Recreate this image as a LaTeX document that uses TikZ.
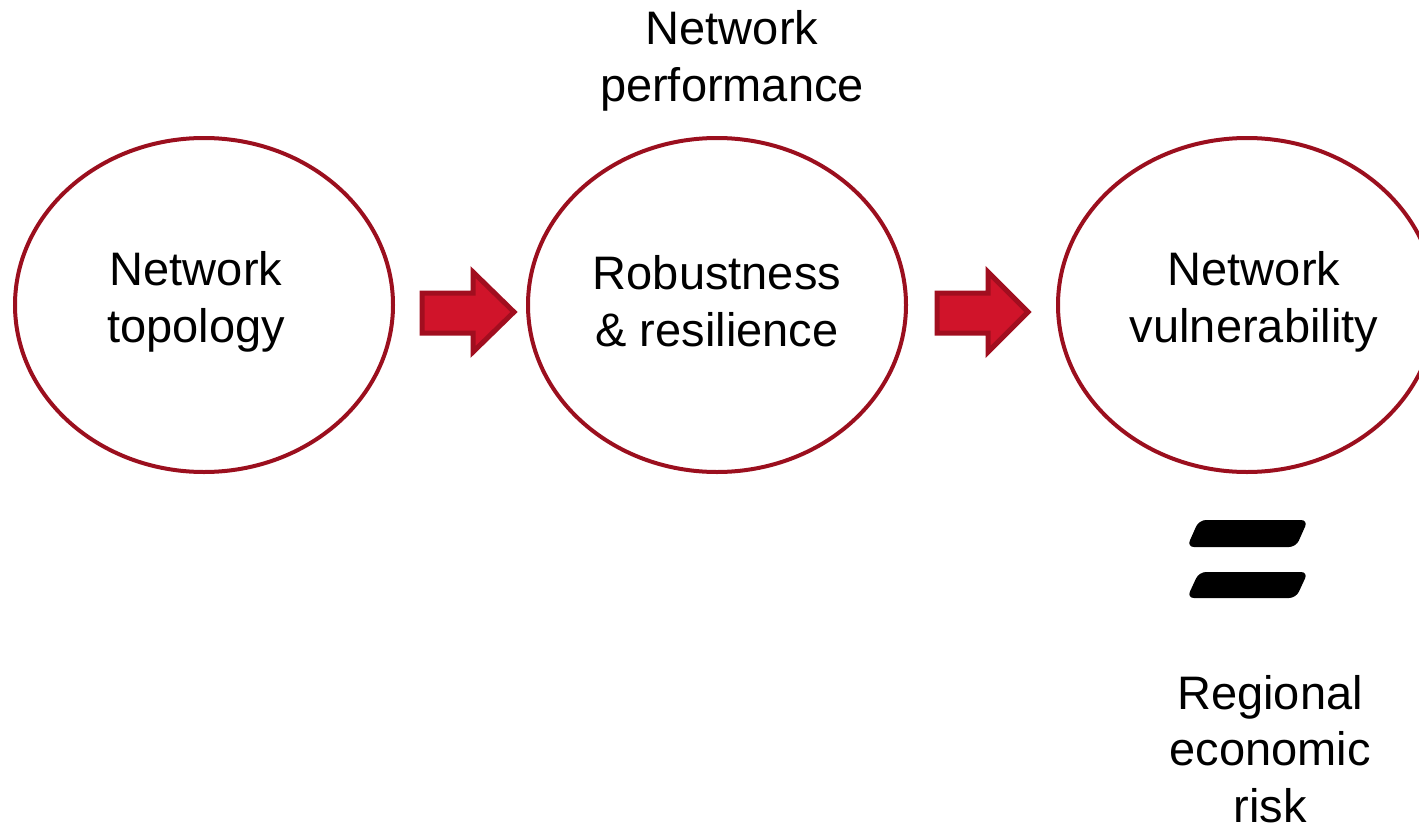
\documentclass[tikz,border=0pt]{standalone}
\usepackage{fontspec}
\usetikzlibrary{shapes.geometric}
\setmainfont{Liberation Sans}
\definecolor{ringred}{HTML}{9B0F1E}
\definecolor{arrowfill}{HTML}{D0142A}
\definecolor{arrowedge}{HTML}{A10E1F}
\begin{document}
\begin{tikzpicture}[x=1pt,y=-1pt,
  stage/.style={draw=ringred,line width=4pt,ellipse,minimum width=378pt,minimum height=334pt,inner sep=0pt},
  label/.style={align=center,font=\fontsize{47}{56.5}\selectfont,inner sep=0pt},
  blockarrow/.style={fill=arrowfill,draw=arrowedge,line width=5pt,line join=miter},
  bar/.style={fill=black,rounded corners=7pt}]
\useasboundingbox (0,0) rectangle (1419,830);
\clip (0,0) rectangle (1419,830);

% three stages
\node[stage] (topo) at (204,305) {};
\node[stage] (robust) at (717,305) {};
\node[stage] (vuln) at (1247,305) {};

\node[label] (topotxt) at (196,302) {Network\\topology};
\node[label] (robtxt) at (717,301) {Robustness\\\& resilience};
\node[label] (vultxt) at (1254,302) {Network\\vulnerability};
\node[label] (perf) at (732,61) {Network\\performance};
\node[label] (risk) at (1270,749) {Regional\\economic\\risk};

% block arrows between the stages
\coordinate (a1) at (422,293);
\draw[blockarrow] (a1) -- ++(51,0) -- ++(0,-21) -- ++(41,40) -- ++(-41,40) -- ++(0,-19) -- ++(-51,0) -- cycle;
\coordinate (a2) at (937,293);
\draw[blockarrow] (a2) -- ++(51,0) -- ++(0,-21) -- ++(40,40) -- ++(-40,40) -- ++(0,-19) -- ++(-51,0) -- cycle;

% equals sign
\coordinate (eqtop) at (1187,547);
\fill[bar] (eqtop) -- ++(12,-27) -- ++(109,0) -- ++(-12,27) -- cycle;
\coordinate (eqbot) at (1187,598);
\fill[bar] (eqbot) -- ++(12,-26) -- ++(109,0) -- ++(-12,26) -- cycle;
\end{tikzpicture}
\end{document}
